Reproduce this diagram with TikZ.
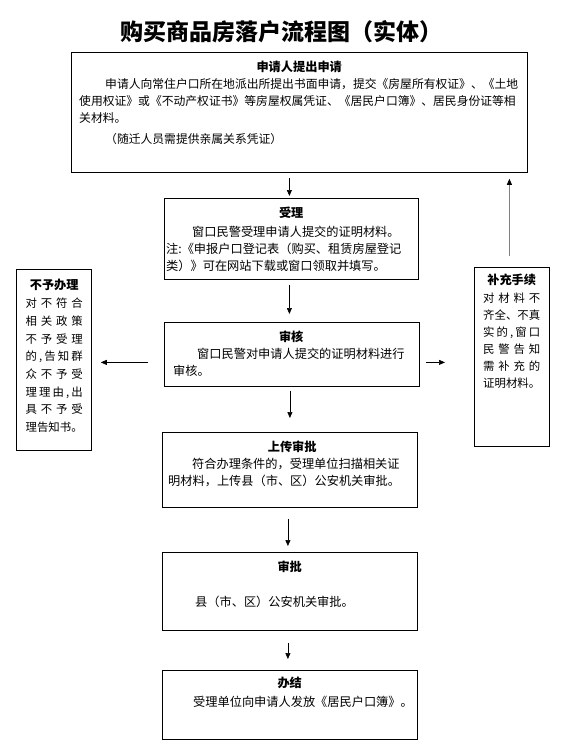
\documentclass[tikz,border=0pt]{standalone}
\usepackage{fontspec}
\setmainfont{Noto Sans CJK SC}
\usetikzlibrary{arrows.meta}
\tikzset{
  box/.style={draw, line width=0.8pt, inner sep=0pt, anchor=north west},
  txt/.style={anchor=base west, inner sep=0pt, align=left, font=\fontsize{12.2}{17}\selectfont},
  side/.style={anchor=base west, inner sep=0pt, align=left, text width=57pt, font=\fontsize{11.4}{17.7}\selectfont},
  arr/.style={-{Triangle[length=6pt,width=5pt]}, line width=0.7pt},
}
\newcommand{\hd}[1]{\makebox[\linewidth]{\fontsize{12.2}{17}\selectfont\bfseries #1}}
\newcommand{\sprd}[1]{\makebox[\linewidth][s]{#1}}
\begin{document}
\begin{tikzpicture}[x=1pt,y=-1pt]
\useasboundingbox (0,0) rectangle (579,747);
% title
\node[inner sep=0pt, font=\fontsize{23}{23}\selectfont\bfseries] (title) at (281.5,32) {购买商品房落户流程图（实体）};
% boxes
\node[box, minimum width=456pt, minimum height=120pt] (b1) at (71,52) {};
\node[box, minimum width=254pt, minimum height=81pt] (b2) at (164,198) {};
\node[box, minimum width=255pt, minimum height=64pt] (b3) at (164,322) {};
\node[box, minimum width=255pt, minimum height=75pt] (b4) at (162,432) {};
\node[box, minimum width=255pt, minimum height=78pt] (b5) at (162,552) {};
\node[box, minimum width=255pt, minimum height=69pt] (b6) at (162,670) {};
\node[box, minimum width=75pt, minimum height=181pt] (bl) at (16,269) {};
\node[box, minimum width=75pt, minimum height=179pt] (br) at (474,267) {};
% texts
\node[txt, text width=440pt, font=\fontsize{11.8}{17}\selectfont] (t1) at (79,71.6) {\hd{申请人提出申请}\\
\hspace*{26pt}申请人向常住户口所在地派出所提出书面申请，提交《房屋所有权证》、《土地\\
使用权证》或《不动产权证书》等房屋权属凭证、《居民户口簿》、居民身份证等相\\
关材料。\\[4pt]
\hspace*{26pt}（随迁人员需提供亲属关系凭证）};
\node[txt, text width=250pt] (t2) at (166,217.6) {\hd{受理}\\[2pt]
\hspace*{26pt}窗口民警受理申请人提交的证明材料。\\
注:《申报户口登记表（购买、租赁房屋登记\\
类）》可在网站下载或窗口领取并填写。};
\node[txt, text width=236pt] (t3) at (173,341.6) {\hd{审核}\\
\hspace*{24pt}窗口民警对申请人提交的证明材料进行\\
审核。};
\node[txt, text width=248pt] (t4) at (168,451.6) {\hd{上传审批}\\
\hspace*{24pt}符合办理条件的，受理单位扫描相关证\\
明材料，上传县（市、区）公安机关审批。};
\node[txt, text width=243pt] (t5) at (168,571.6) {\hd{审批}\\[18pt]
\hspace*{27pt}县（市、区）公安机关审批。};
\node[txt, text width=243pt] (t6) at (168,687.6) {\hd{办结}\\[2pt]
\hspace*{25pt}受理单位向申请人发放《居民户口簿》。};
\node[side] (tl) at (25.5,289.6) {\hd{不予办理}\\[0.3pt]
\sprd{对\hfill 不\hfill 符\hfill 合}\\
\sprd{相\hfill 关\hfill 政\hfill 策}\\
\sprd{不\hfill 予\hfill 受\hfill 理}\\
\sprd{的\hfill ,\hfill 告\hfill 知\hfill 群}\\
\sprd{众\hfill 不\hfill 予\hfill 受}\\
\sprd{理\hfill 理\hfill 由\hfill ,\hfill 出}\\
\sprd{具\hfill 不\hfill 予\hfill 受}\\
\sprd{理\hfill 告\hfill 知\hfill 书\hfill 。}};
\node[side, font=\fontsize{11.4}{17}\selectfont] (tr) at (483,284.6) {\hd{补充手续}\\[1pt]
\sprd{对\hfill 材\hfill 料\hfill 不}\\
\sprd{齐\hfill 全\hfill 、\hfill 不\hfill 真}\\
\sprd{实\hfill 的\hfill ,\hfill 窗\hfill 口}\\
\sprd{民\hfill 警\hfill 告\hfill 知}\\
\sprd{需\hfill 补\hfill 充\hfill 的}\\
\sprd{证\hfill 明\hfill 材\hfill 料\hfill 。}};
% connectors
\draw[arr, shorten <=5pt, shorten >=2pt] ([xshift=-2pt]b2.north |- b1.south) -- ([xshift=-2pt]b2.north);
\draw[arr, shorten <=5pt, shorten >=8pt] ([xshift=-2pt]b2.south) -- ([xshift=-2pt]b2.south |- b3.north);
\draw[arr, shorten <=4pt, shorten >=14pt] ([xshift=-2pt]b3.south) -- ([xshift=-2pt]b3.south |- b4.north);
\draw[arr, shorten <=11pt, shorten >=6pt] ([xshift=-2pt]b4.south) -- ([xshift=-2pt]b4.south |- b5.north);
\draw[arr, shorten <=12pt, shorten >=11pt] ([xshift=-2pt]b5.south) -- ([xshift=-2pt]b5.south |- b6.north);
\draw[arr, shorten <=16pt, shorten >=9pt] ([yshift=-8pt]b3.west) -- ([yshift=-8pt]b3.west -| bl.east);
\draw[arr, shorten <=6pt, shorten >=29pt] ([yshift=-8pt]b3.east) -- ([yshift=-8pt]b3.east -| br.west);
\draw[arr, draw=gray, -{Triangle[length=6pt,width=5pt,color=black]}, shorten <=11pt, shorten >=6pt] ([xshift=-2.5pt]br.north) -- ([xshift=-2.5pt]br.north |- b1.south);
\end{tikzpicture}
\end{document}
